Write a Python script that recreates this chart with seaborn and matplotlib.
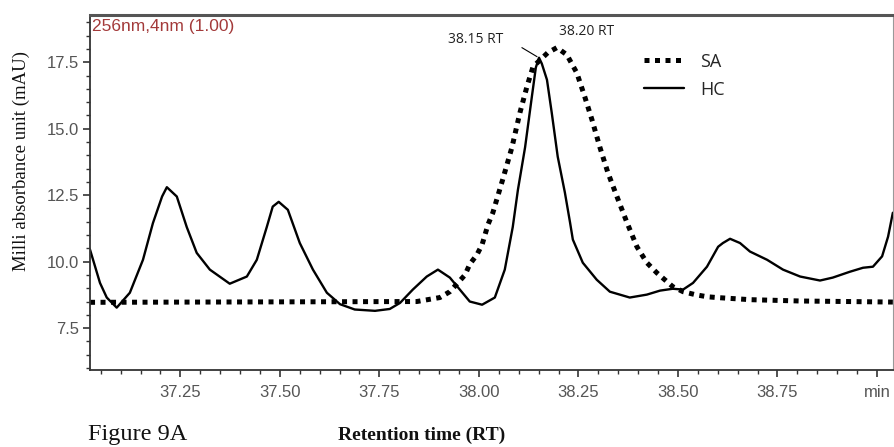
import numpy as np
import pandas as pd
import matplotlib
matplotlib.use('Agg')
import matplotlib.pyplot as plt
from matplotlib.ticker import MultipleLocator, FixedLocator, FixedFormatter
from matplotlib.lines import Line2D
import seaborn as sns

# Chromatogram traces (retention time in min, absorbance in mAU)
hc_rt = [37.023, 37.048, 37.065, 37.090, 37.123, 37.156, 37.181, 37.204, 37.216, 37.241,
         37.266, 37.291, 37.324, 37.374, 37.417, 37.442, 37.467, 37.482, 37.497, 37.520,
         37.550, 37.583, 37.618, 37.651, 37.688, 37.739, 37.776, 37.802, 37.834, 37.869,
         37.897, 37.927, 37.952, 37.977, 38.008, 38.040, 38.065, 38.085, 38.098, 38.116,
         38.133, 38.143, 38.151, 38.158, 38.171, 38.183, 38.198, 38.216, 38.229, 38.236,
         38.261, 38.296, 38.329, 38.379, 38.422, 38.455, 38.487, 38.513, 38.538, 38.573,
         38.601, 38.613, 38.631, 38.656, 38.681, 38.724, 38.764, 38.807, 38.857, 38.889,
         38.932, 38.965, 38.990, 39.013, 39.028, 39.040]
hc_mau = [10.45, 9.20, 8.65, 8.27, 8.83, 10.07, 11.45, 12.45, 12.80, 12.45,
          11.30, 10.33, 9.70, 9.17, 9.44, 10.07, 11.30, 12.07, 12.25, 11.95,
          10.70, 9.70, 8.83, 8.40, 8.20, 8.15, 8.22, 8.45, 8.95, 9.44,
          9.70, 9.40, 8.95, 8.50, 8.38, 8.65, 9.70, 11.30, 12.70, 14.30,
          16.20, 17.30, 17.67, 17.45, 16.84, 15.60, 13.95, 12.60, 11.47, 10.83,
          9.96, 9.32, 8.87, 8.65, 8.76, 8.91, 8.98, 8.95, 9.20, 9.81,
          10.56, 10.70, 10.86, 10.70, 10.38, 10.07, 9.70, 9.44, 9.29, 9.40,
          9.62, 9.77, 9.81, 10.20, 10.94, 11.84]

sa_rt = [37.023, 37.844, 37.902, 37.927, 37.947, 37.965, 37.977, 37.995, 38.008, 38.023,
         38.035, 38.060, 38.083, 38.103, 38.121, 38.136, 38.173, 38.196, 38.221, 38.246,
         38.266, 38.284, 38.304, 38.324, 38.347, 38.372, 38.397, 38.422, 38.447, 38.467,
         38.487, 38.513, 38.543, 38.573, 38.598, 38.681, 38.807, 39.040]
sa_mau = [8.47, 8.50, 8.65, 8.87, 9.20, 9.50, 9.90, 10.26, 10.64, 11.40,
          11.84, 13.10, 14.30, 15.60, 16.60, 17.33, 17.86, 18.05, 17.78, 17.10,
          16.20, 15.34, 14.30, 13.35, 12.44, 11.47, 10.56, 9.96, 9.58, 9.32,
          9.06, 8.87, 8.76, 8.68, 8.65, 8.57, 8.52, 8.48]

xtick_vals = [37.25, 37.50, 37.75, 38.00, 38.25, 38.50, 38.75, 39.00]
xtick_labels = ['37.25', '37.50', '37.75', '38.00', '38.25', '38.50', '38.75', 'min']
ytick_vals = [7.5, 10.0, 12.5, 15.0, 17.5]

sns.set_style('white')
plt.rcParams['font.family'] = ['Liberation Sans', 'DejaVu Sans']

fig = plt.figure(figsize=(8.95, 4.47), dpi=100)
ax = fig.add_axes([0.1006, 0.172, 0.897, 0.794])

sns.lineplot(x=sa_rt, y=sa_mau, ax=ax, color='black', linewidth=3.6,
             estimator=None, sort=False)
ax.lines[-1].set_dashes([1, 1.1])
ax.lines[-1].set_dash_capstyle('butt')
sns.lineplot(x=hc_rt, y=hc_mau, ax=ax, color='black', linewidth=1.7,
             estimator=None, sort=False)
ax.lines[-1].set_solid_joinstyle('round')

ax.set_xlim(37.023, 39.04)
ax.set_ylim(5.92, 19.27)

ax.xaxis.set_major_locator(FixedLocator(xtick_vals))
ax.xaxis.set_major_formatter(FixedFormatter(xtick_labels))
ax.xaxis.set_minor_locator(MultipleLocator(0.05))
ax.yaxis.set_major_locator(FixedLocator(ytick_vals))
ax.yaxis.set_minor_locator(MultipleLocator(0.5))
ax.tick_params(which='major', direction='out', length=5, width=1.2, color='#333333',
               labelsize=12, labelcolor='#555555', pad=3, bottom=True, left=True)
ax.tick_params(axis='x', which='major', pad=6)
ax.tick_params(which='minor', direction='out', length=3, width=1.0, color='#333333',
               bottom=True, left=True)

for side in ['left', 'bottom']:
    ax.spines[side].set_color('#333333')
    ax.spines[side].set_linewidth(1.3)
ax.spines['right'].set_color('#999999')
ax.spines['right'].set_linewidth(0.8)
ax.spines['top'].set_color('#555555')
ax.spines['top'].set_linewidth(2.2)

ax.set_xlabel('')
ax.set_ylabel('Milli absorbance unit (mAU)', family='Liberation Serif', fontsize=13.5,
              color='#111111')
ax.yaxis.set_label_coords(-0.075, 0.59)

ax.text(0.003, 0.99, '256nm,4nm (1.00)', transform=ax.transAxes, ha='left', va='top',
        fontsize=12.5, color='#a33a3a')

# peak labels
ax.text(37.992, 18.35, '38.15 RT', ha='center', va='center', family='Open Sans',
        fontsize=10, color='#222222')
ax.text(38.270, 18.65, '38.20 RT', ha='center', va='center', family='Open Sans',
        fontsize=10, color='#222222')
ax.plot([38.108, 38.146], [18.05, 17.71], color='black', linewidth=0.8)

handles = [Line2D([], [], color='black', linewidth=3.6, dashes=[1, 1.1], dash_capstyle='butt'),
           Line2D([], [], color='black', linewidth=1.7)]
ax.legend(handles, ['SA', 'HC'], loc='upper left', bbox_to_anchor=(0.67, 0.94),
          frameon=False, handlelength=2.2, handletextpad=0.9,
          labelspacing=0.55, prop={'family': 'Open Sans', 'size': 13})

fig.text(0.098, 0.016, 'Figure 9A', family='Liberation Serif', fontsize=17.5, color='#111111',
         ha='left', va='baseline')
fig.text(0.4715, 0.016, 'Retention time (RT)', family='Liberation Serif', fontsize=14,
         fontweight='bold', color='#111111', ha='center', va='baseline')

fig.savefig('out.png', dpi=100)
